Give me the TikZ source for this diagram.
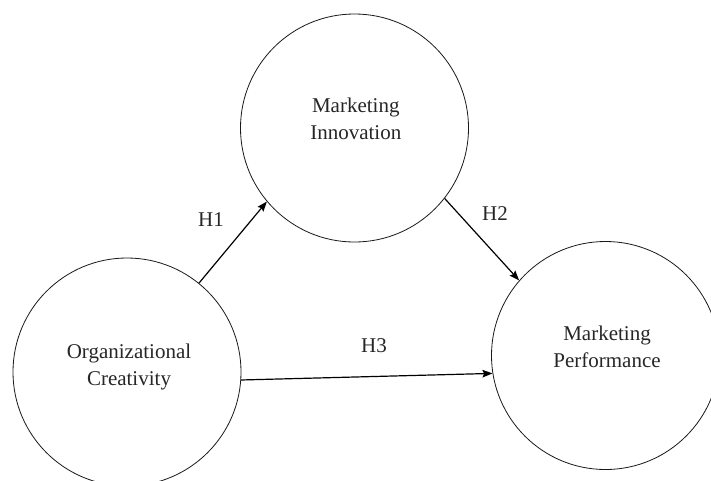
\documentclass[tikz,border=0pt]{standalone}
\usepackage{fontspec}
\setmainfont{Liberation Serif}
\usetikzlibrary{arrows.meta}
\begin{document}
\begin{tikzpicture}[x=1pt,y=-1pt,
  construct/.style={circle,draw=black!90,line width=0.8pt,minimum size=228pt,inner sep=0pt},
  ctext/.style={align=center,inner sep=0pt,text=black!85,font=\fontsize{21}{26.7}\selectfont},
  hyp/.style={inner sep=0pt,text=black!85,font=\fontsize{21}{25}\selectfont},
  link/.style={line width=1.2pt,-{Stealth[length=10pt,width=7.5pt,inset=1.5pt]}}]
\useasboundingbox (0,0) rectangle (711,480);
\clip (0,0) rectangle (711,480);
\node[construct] (mi) at (354.5,128) {};
\node[construct] (oc) at (127,372) {};
\node[construct] (mp) at (605.5,355.5) {};
\node[ctext] (mitext) at (355.8,119) {Marketing\\Innovation};
\node[ctext] (octext) at (129,367) {Organizational\\Creativity};
\node[ctext] (mptext) at (607,347) {Marketing\\Performance};
\draw[link] (oc.51.4) -- (mi.220.5);
\draw[link] (mi.-38) -- (mp.139);
\draw[link] (oc.-4.6) -- (mp.189.2);
\node[hyp] (h1) at (211,220) {H1};
\node[hyp] (h2) at (495,213.7) {H2};
\node[hyp] (h3) at (374,345.3) {H3};
\end{tikzpicture}
\end{document}
